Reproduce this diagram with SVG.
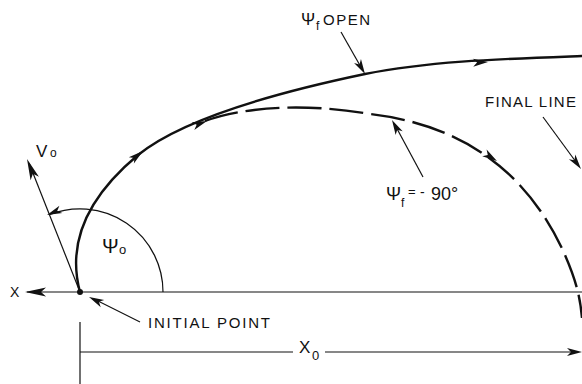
<svg xmlns="http://www.w3.org/2000/svg" xmlns:xlink="http://www.w3.org/1999/xlink" width="582" height="384" viewBox="0 0 582 384">
<style>
.thin{fill:none;stroke:#111;stroke-width:1.2}
.thick{fill:none;stroke:#111;stroke-width:2.4;stroke-linecap:round}
.dash{fill:none;stroke:#111;stroke-width:2.4;stroke-dasharray:34 8}
.ah{fill:#111}
text{font-family:"Liberation Sans",Arial,sans-serif;fill:#111}
</style>
<defs>
<path id="ah" d="M0,0 L-15,-4 L-11,0 L-15,4Z"/>
<path id="ahL" d="M0,0 L-21,-4.5 L-16,0 L-21,4.5Z"/>
</defs>
<rect width="582" height="384" fill="#fff"/>
<g id="axes">
<line class="thin" x1="27" y1="292" x2="582" y2="292"/>
<use href="#ahL" class="ah" transform="translate(25,292) rotate(180)"/>
<line class="thin" x1="80" y1="322" x2="80" y2="384"/>
<line class="thin" x1="80" y1="352" x2="293" y2="352"/>
<line class="thin" x1="325" y1="352" x2="576" y2="352"/>
<use href="#ah" class="ah" transform="translate(582,352)"/>
</g>
<g id="initial-point">
<circle cx="80" cy="292" r="3" fill="#111"/>
<line class="thin" x1="80" y1="292" x2="29" y2="163"/>
<use href="#ahL" class="ah" transform="translate(27,159) rotate(248.3)"/>
<path class="thin" d="M163,292 A83,83 0 0 0 49.3,214.8"/>
<use href="#ah" class="ah" transform="translate(47,215) rotate(158)"/>
</g>
<g id="connectors">
<path class="thick" d="M80,292 C66,240 90,195 138,155 C175,125 255,97 365,74 C430,61 500,59 582,56"/>
<use href="#ah" class="ah" transform="translate(143,151) rotate(-39)"/>
<use href="#ah" class="ah" transform="translate(207,121) rotate(-20)"/>
<use href="#ah" class="ah" transform="translate(488,62) rotate(-3)"/>
<path class="dash" d="M205,121 C240,108 300,102 370,114 C455,124 525,165 565,255 C575,278 580,295 582,318"/>
<use href="#ah" class="ah" transform="translate(497,161) rotate(33)"/>
<line class="thin" x1="341" y1="32" x2="362" y2="69"/>
<use href="#ah" class="ah" transform="translate(365,74) rotate(60)"/>
<line class="thin" x1="423" y1="177" x2="395" y2="125"/>
<use href="#ah" class="ah" transform="translate(392,120) rotate(241.5)"/>
<line class="thin" x1="543" y1="117" x2="576" y2="162"/>
<use href="#ah" class="ah" transform="translate(581,169) rotate(53.6)"/>
<line class="thin" x1="140" y1="322" x2="94" y2="299"/>
<use href="#ah" class="ah" transform="translate(89,297) rotate(206)"/>
</g>
<g id="labels">
<text x="10" y="297" font-size="14">X</text>
<text x="36" y="157" font-size="17">V</text>
<text x="50" y="157" font-size="12">o</text>
<text x="102" y="253" font-size="20">Ψ</text>
<text x="119" y="254" font-size="13">o</text>
<text x="301" y="25" font-size="17">Ψ</text>
<text x="316" y="30" font-size="12">f</text>
<text x="323" y="25" font-size="15" textLength="47" lengthAdjust="spacing">OPEN</text>
<text x="485" y="107" font-size="15" textLength="91" lengthAdjust="spacing">FINAL LINE</text>
<text x="386" y="200" font-size="18">Ψ</text>
<text x="401" y="207" font-size="12">f</text>
<text x="408" y="196" font-size="13">=</text>
<text x="420" y="197" font-size="14">-</text>
<text x="431" y="200" font-size="18">90°</text>
<text x="148" y="328" font-size="15" textLength="122" lengthAdjust="spacing">INITIAL POINT</text>
<text x="299" y="353" font-size="17">X</text>
<text x="312" y="360" font-size="13">0</text>
</g>
</svg>
